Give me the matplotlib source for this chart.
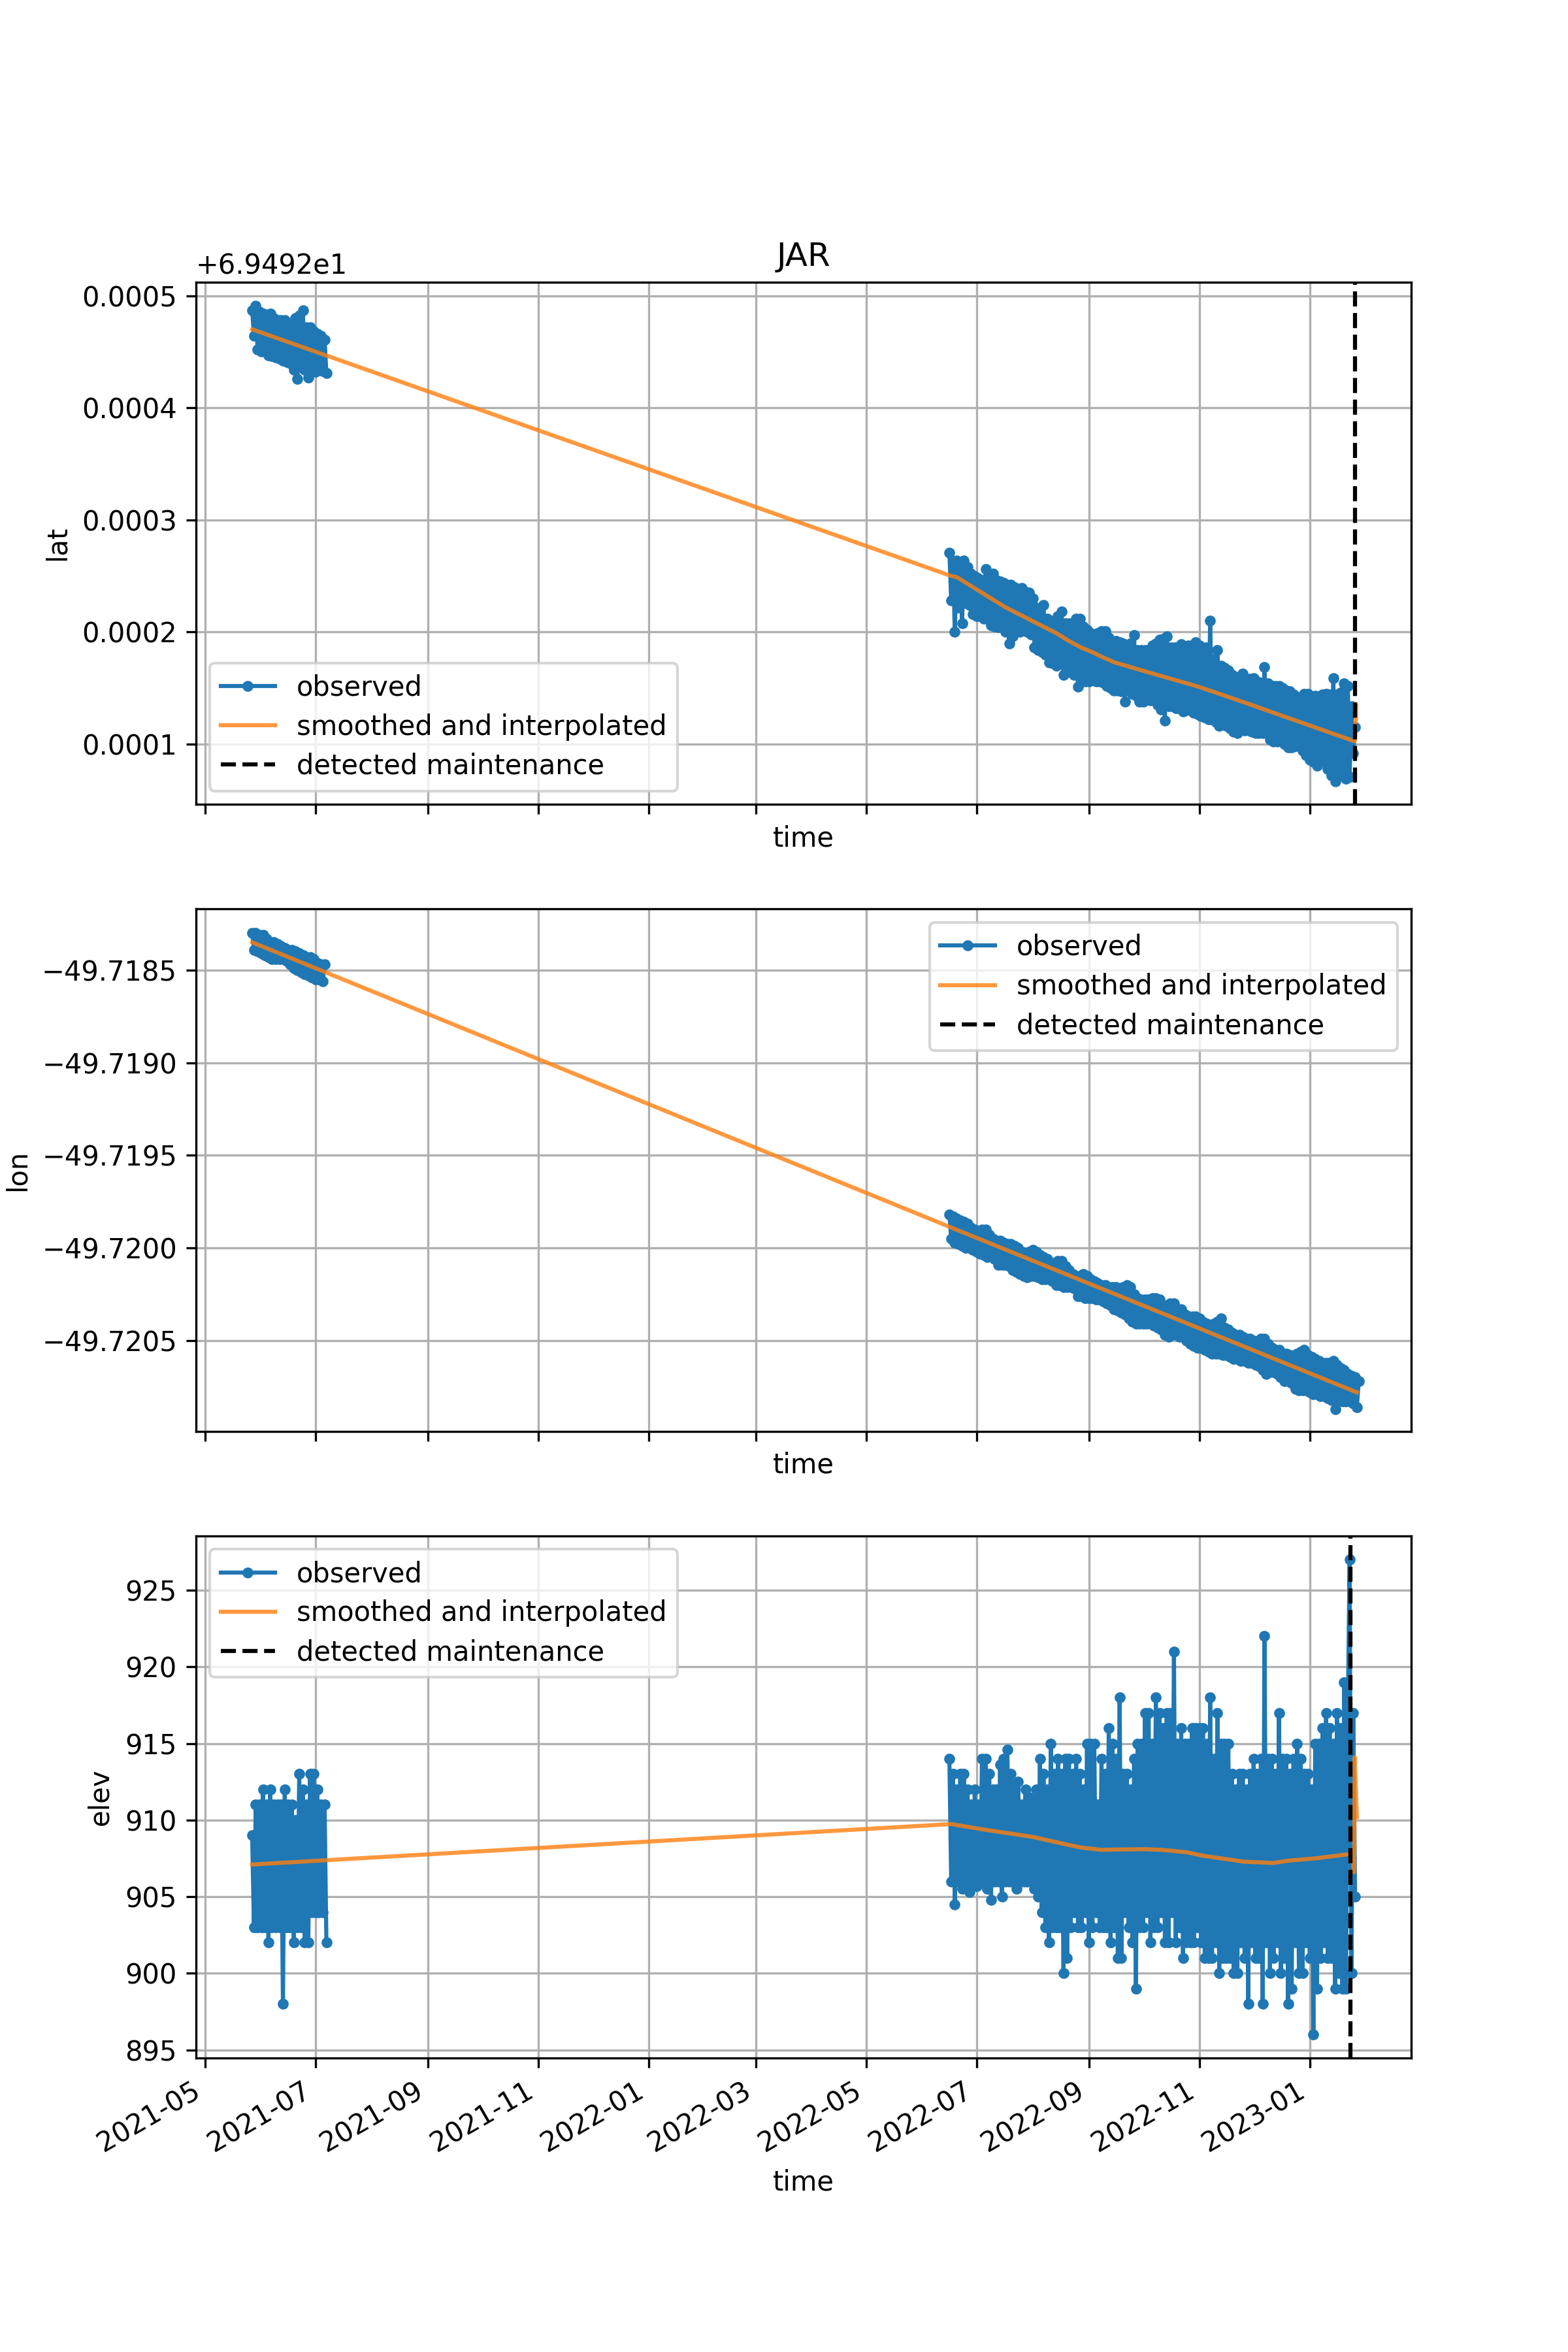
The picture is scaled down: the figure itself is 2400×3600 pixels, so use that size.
#!/usr/bin/env python3
"""Observed and smoothed position of station JAR, three stacked panels."""

import matplotlib
matplotlib.use('Agg')
import matplotlib.dates as mdates
import matplotlib.pyplot as plt
import numpy as np
import pandas as pd

# daily observations, two field seasons
season_a_start = '2021-05-27'
season_b_start = '2022-06-16'

# lat, in 1e-6 degrees above 69.492
lat_a = [487, 464, 491, 452, 486, 450, 484, 450, 482, 447, 484, 446, 480, 445, 478, 444,
         478, 442, 478, 441, 474, 440, 473, 434, 480, 426, 482, 436, 487, 434, 472, 427,
         472, 432, 468, 432, 466, 434, 464, 433, 461, 431]
lat_b = [271, 228, 262, 200, 264, 222, 262, 208, 264, 226, 258, 224, 252, 216, 250, 214,
         248, 214, 246, 212, 256, 212, 250, 206, 252, 205, 246, 204, 245, 206, 244, 200,
         242, 190, 242, 196, 240, 201, 238, 200, 239, 202, 236, 200, 235, 198, 230, 186,
         222, 184, 220, 182, 224, 180, 212, 173, 210, 172, 210, 170, 214, 172, 218, 162,
         208, 166, 208, 164, 208, 162, 212, 151, 212, 158, 205, 156, 202, 156, 199, 158,
         198, 156, 199, 156, 201, 155, 201, 152, 195, 150, 191, 148, 192, 148, 191, 147,
         190, 138, 188, 148, 190, 145, 197, 143, 184, 138, 184, 138, 184, 140, 184, 139,
         188, 140, 190, 135, 193, 131, 194, 121, 196, 134, 186, 134, 186, 132, 186, 132,
         189, 129, 186, 130, 188, 132, 188, 128, 191, 127, 188, 125, 186, 124, 186, 122,
         210, 122, 176, 120, 184, 116, 170, 120, 168, 116, 166, 114, 162, 111, 160, 110,
         160, 114, 163, 112, 158, 112, 158, 111, 159, 110, 156, 110, 155, 110, 169, 112,
         154, 104, 152, 102, 152, 102, 152, 106, 150, 100, 148, 97, 147, 97, 144, 98,
         142, 100, 142, 94, 145, 90, 145, 86, 141, 84, 143, 81, 141, 88, 144, 84,
         145, 78, 144, 72, 159, 67, 144, 72, 146, 72, 154, 69, 152, 71, 134, 92, 115]

# lon, in 1e-5 degrees below -49.72
lon_a = [-170, -161, -170, -160, -169, -159, -169, -158, -167, -157, -165, -156, -165, -156,
         -164, -156, -163, -156, -162, -155, -161, -153, -161, -151, -160, -150, -159, -149,
         -158, -148, -157, -147, -157, -146, -156, -145, -154, -145, -153, -144, -153]
lon_b = [-18, -5, -17, -3, -16, -2, -15, -1, -14, 0, -13, 0, -11, 1, -10, 2, -9, 3, -10, 4,
         -10, 5, -7, 4, -5, 6, -4, 9, -4, 9, -3, 9, -2, 10, -2, 12, -1, 13, 0, 14,
         2, 15, 3, 16, 2, 15, 1, 15, 2, 16, 4, 17, 5, 17, 6, 17, 8, 18, 8, 20,
         7, 20, 7, 21, 10, 21, 12, 21, 14, 22, 15, 26, 15, 26, 14, 27, 15, 27, 17, 27,
         18, 28, 19, 28, 20, 29, 20, 30, 21, 31, 21, 33, 21, 34, 22, 35, 21, 36, 20, 38,
         21, 40, 25, 41, 27, 41, 28, 41, 28, 41, 28, 41, 27, 42, 27, 43, 28, 44, 31, 47,
         31, 48, 30, 47, 30, 47, 33, 48, 33, 48, 36, 50, 37, 52, 37, 53, 37, 54, 38, 54,
         40, 55, 41, 56, 42, 57, 41, 57, 40, 57, 38, 58, 43, 58, 44, 59, 46, 60, 47, 60,
         47, 61, 48, 61, 49, 62, 49, 62, 50, 63, 51, 64, 49, 66, 49, 68, 52, 67, 54, 67,
         55, 68, 55, 70, 57, 72, 57, 72, 58, 73, 59, 76, 57, 77, 56, 77, 55, 77, 58, 78,
         59, 79, 60, 79, 61, 80, 62, 80, 62, 81, 62, 82, 61, 87, 63, 83, 65, 83, 66, 83,
         68, 83, 69, 84, 70, 86, 72]

# elevation in metres
elev_a = [909, 903, 911, 903, 911, 903, 912, 903, 911, 902, 912, 903, 911, 903, 911, 903,
          911, 898, 912, 903, 911, 903, 911, 902, 910, 903, 913, 903, 912, 902, 911, 902,
          913, 904, 913, 904, 912, 904, 911, 904, 911, 902]
elev_b = [914, 906, 913, 904.5, 912, 906, 913, 905.5, 913, 906, 912, 905.3, 911, 906, 912, 905.7,
          911, 906, 914, 906, 914, 905.5, 913, 904.8, 912, 906, 912, 906, 913.6, 905, 914, 906,
          914.6, 906, 913, 906, 912, 905.5, 912.5, 906, 911, 906, 912, 906, 911.5, 906, 911, 905.5,
          912, 905, 914, 904, 913, 903, 912, 902, 915, 903, 913, 903, 914, 903, 913, 900,
          914, 901, 914, 903, 913, 904, 914, 903, 913, 903, 912, 904, 915, 902, 915, 903,
          915, 904, 911, 903, 914, 903, 913, 903, 916, 902, 915, 903, 914, 901, 918, 901,
          913, 904, 913, 903, 912, 902, 914, 899, 915, 903, 915, 903, 917, 904, 917, 902,
          915, 903, 918, 903, 917, 904, 916, 902, 917, 902, 917, 904, 921, 902, 915, 903,
          916, 901, 915, 902, 915, 902, 916, 902, 916, 903, 916, 902, 916, 901, 915, 901,
          918, 901, 914, 902, 917, 900, 915, 901, 915, 901, 915, 901, 913, 900, 912, 900,
          913, 902, 913, 901, 912, 898, 913, 902, 914, 901, 913, 901, 914, 898, 922, 902,
          914, 900, 914, 901, 913, 902, 917, 900, 914, 901, 914, 898, 913, 899, 914, 902,
          915, 900, 914, 900, 913, 902, 913, 901, 912, 896, 915, 899, 915, 901, 916, 902,
          917, 901, 916, 901, 915, 899, 917, 900, 916, 899, 919, 899, 917, 927, 900, 917, 905]

# smoothed and interpolated curves
lat_smooth_t = ['2021-05-27', '2022-06-17', '2022-06-20', '2022-07-17', '2022-08-14', '2022-08-21',
                '2022-08-28', '2022-09-03', '2022-09-08', '2022-09-15', '2022-10-04', '2022-11-01',
                '2022-11-28', '2022-12-26', '2023-01-25 18:00', '2023-01-26 00:00',
                '2023-01-26 12:00', '2023-01-26 14:00']
lat_smooth = [470, 250, 249, 222, 199, 192, 186, 182, 178, 173, 164, 151, 136, 120, 102.5, 104, 136, 123]

lon_smooth_t = ['2021-05-27', '2022-06-17', '2023-01-27']
lon_smooth = [-165, -11, 78]

elev_smooth_t = ['2021-05-27', '2022-06-17', '2022-07-04', '2022-08-01', '2022-08-20', '2022-08-28',
                 '2022-09-08', '2022-09-17', '2022-10-02', '2022-10-11', '2022-10-25', '2022-11-03',
                 '2022-11-16', '2022-11-26', '2022-12-12', '2022-12-20', '2023-01-04',
                 '2023-01-24 10:00', '2023-01-25 12:00', '2023-01-25 19:00', '2023-01-27']
elev_smooth = [907.1, 909.74, 909.4, 908.9, 908.4, 908.2, 908.06, 908.08, 908.1, 908.06, 907.9, 907.67,
               907.45, 907.28, 907.2, 907.35, 907.5, 907.8, 906.6, 914.1, 910.2]

maintenance = {'lat': '2023-01-26', 'lon': None, 'elev': '2023-01-23 12:00'}


def to_lat(values):
    return 69.492 + np.array(values) * 1e-6


def to_lon(values):
    return -49.72 - np.array(values) * 1e-5


def draw_panel(ax, obs_a, obs_b, smooth_t, smooth, maint):
    t_a = pd.date_range(season_a_start, periods=len(obs_a), freq='D')
    t_b = pd.date_range(season_b_start, periods=len(obs_b), freq='D')
    ax.plot(t_a, obs_a, marker='.', color='C0', label='observed')
    ax.plot(t_b, obs_b, marker='.', color='C0')
    ax.plot(pd.to_datetime(smooth_t, format='mixed'), smooth, color='C1', alpha=0.8,
            label='smoothed and interpolated')
    if maint is None:
        ax.plot([], [], color='k', linestyle='--', label='detected maintenance')
    else:
        ax.axvline(pd.Timestamp(maint), color='k', linestyle='--', label='detected maintenance')
    ax.grid(True)
    ax.set_xlabel('time')


fig, axes = plt.subplots(3, 1, figsize=(8, 12), dpi=300, sharex=True)
fig.subplots_adjust(top=0.88, bottom=0.125)

draw_panel(axes[0], to_lat(lat_a), to_lat(lat_b), lat_smooth_t, to_lat(lat_smooth), maintenance['lat'])
draw_panel(axes[1], to_lon(lon_a), to_lon(lon_b), lon_smooth_t, to_lon(lon_smooth), maintenance['lon'])
draw_panel(axes[2], np.array(elev_a), np.array(elev_b), elev_smooth_t, elev_smooth, maintenance['elev'])

axes[0].set_ylabel('lat')
axes[1].set_ylabel('lon')
axes[2].set_ylabel('elev')
axes[0].set_title('JAR')

axes[0].set_ylim(69.492 + 0.0000461, 69.492 + 0.000512)
axes[1].set_ylim(-49.72099, -49.71817)
axes[2].set_ylim(894.47, 928.56)
axes[2].set_xlim(pd.Timestamp('2021-04-26'), pd.Timestamp('2023-02-26'))

axes[0].legend(loc='lower left', labelspacing=0.44)
axes[1].legend(loc='upper right', labelspacing=0.44)
axes[2].legend(loc='upper left', labelspacing=0.44)

axes[2].xaxis.set_major_locator(mdates.MonthLocator(bymonth=[1, 3, 5, 7, 9, 11]))
axes[2].xaxis.set_major_formatter(mdates.DateFormatter('%Y-%m'))
plt.setp(axes[2].get_xticklabels(), rotation=30, ha='right')

fig.savefig('out.png', dpi=300)
